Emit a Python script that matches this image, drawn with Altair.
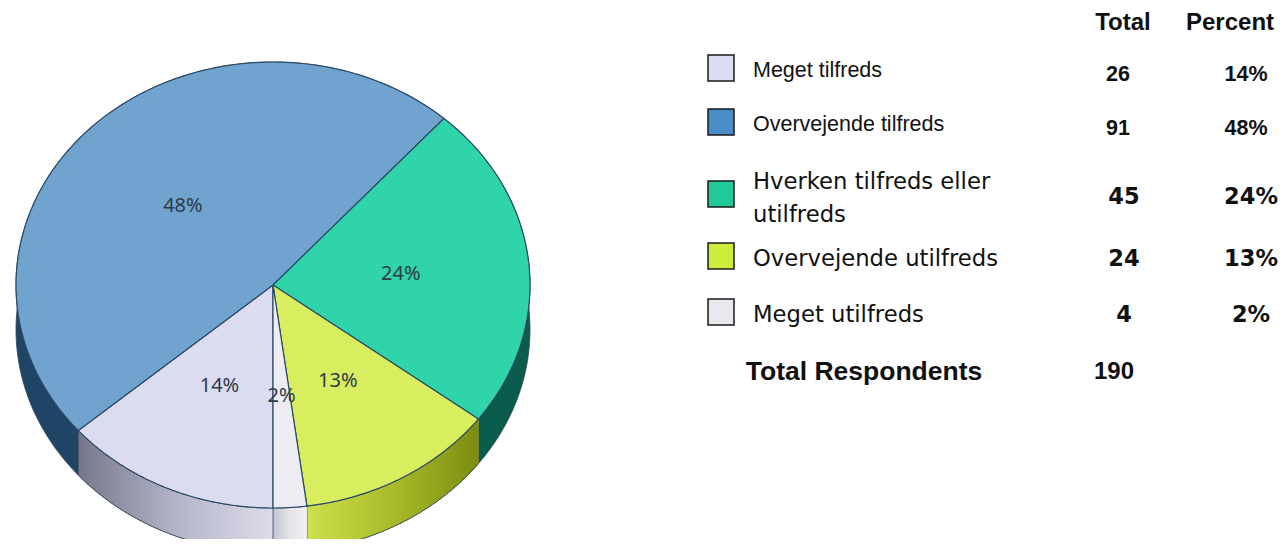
import altair as alt
import pandas as pd

# ---- data ----
categories = ["Meget tilfreds", "Overvejende tilfreds", "Hverken tilfreds eller utilfreds",
              "Overvejende utilfreds", "Meget utilfreds"]
totals = [26, 91, 45, 24, 4]
percent_labels = ["14%", "48%", "24%", "13%", "2%"]
header_labels = ["Total", "Percent"]
total_label = "Total Respondents"
total_respondents = 190

# ---- styles ----
top_colors = ["#dcdcf0", "#70a4cf", "#2fd4aa", "#d9ee5e", "#ececf2"]
side_colors = ["#a4a4ba", "#1f4466", "#0a5c4c", "#a9ba2c", "#d6d6df"]
legend_colors = ["#dcdcf2", "#4a8dc6", "#1fc99a", "#ccec3c", "#e8e8ee"]
outline = "#2b4a68"
side_gradients = {
    "Meget tilfreds": ["#77778a", "#b4b4c8", "#dcdcec"],
    "Overvejende utilfreds": ["#cde04a", "#a9bb2a", "#7c8c10"],
    "Meget utilfreds": ["#c4c4cc", "#e4e4ea", "#f0f0f4"],
}

K = 120          # points per slice edge (geometry resolution)
DEPTH = 0.20     # pie thickness in y units

df = pd.DataFrame({"category": categories, "total": totals, "pct": percent_labels,
                   "idx": list(range(1, len(categories) + 1))})

xs = alt.Scale(domain=[-1, 1], range=[8, 522])
ys = alt.Scale(domain=[-1, 1], range=[500, 54])
top_color = alt.Color("category:N", scale=alt.Scale(domain=categories, range=top_colors), legend=None)
side_color = alt.Color("category:N", scale=alt.Scale(domain=categories, range=side_colors), legend=None)

base = (alt.Chart(df)
        .transform_window(cum="sum(total)", sort=[alt.SortField("idx")])
        .transform_joinaggregate(grand="sum(total)")
        .transform_calculate(start="(datum.cum - datum.total) / datum.grand",
                             end="datum.cum / datum.grand"))

side_base = (base
             .transform_calculate(step=f"sequence(0, {2 * K + 2})")
             .transform_flatten(["step"])
             .transform_calculate(
                 lower=f"datum.step > {K}",
                 f=f"(datum.lower ? ({2 * K + 1} - datum.step) : datum.step) / {K}",
                 ang="2 * PI * (0.5 + datum.start + (datum.end - datum.start) * datum.f)",
                 px="sin(datum.ang)",
                 py=f"cos(datum.ang) - (datum.lower ? {DEPTH} : 0)"))

side_enc = dict(x=alt.X("px:Q", scale=xs, axis=None),
                y=alt.Y("py:Q", scale=ys, axis=None),
                order=alt.Order("step:Q"))

# side wall (drawn first, below the top face)
side = (side_base
        .mark_line(filled=True, stroke="#33445a", strokeWidth=0.8, clip=True)
        .encode(color=side_color, **side_enc))

side_shaded = []
for cat, stops in side_gradients.items():
    grad = alt.Gradient(gradient="linear", x1=0, x2=1, y1=0, y2=0,
                        stops=[alt.GradientStop(color=stops[0], offset=0),
                               alt.GradientStop(color=stops[1], offset=0.5),
                               alt.GradientStop(color=stops[2], offset=1)])
    side_shaded.append(side_base.transform_filter(alt.datum.category == cat)
                       .mark_line(filled=True, fill=grad, stroke="#33445a", strokeWidth=0.8, clip=True)
                       .encode(**side_enc))

# top face
top = (base
       .transform_calculate(step=f"sequence(-1, {K + 2})")
       .transform_flatten(["step"])
       .transform_calculate(
           f=f"clamp(datum.step, 0, {K}) / {K}",
           ang="2 * PI * (0.5 + datum.start + (datum.end - datum.start) * datum.f)",
           inner=f"datum.step < 0 || datum.step > {K}",
           px="datum.inner ? 0 : sin(datum.ang)",
           py="datum.inner ? 0 : cos(datum.ang)")
       .mark_line(filled=True, stroke=outline, strokeWidth=1.2, strokeJoin="round")
       .encode(x=alt.X("px:Q", scale=xs, axis=None),
               y=alt.Y("py:Q", scale=ys, axis=None),
               color=top_color,
               order=alt.Order("step:Q")))

# slice labels
slice_labels = (base
                .transform_calculate(
                    ang="2 * PI * (0.5 + (datum.start + datum.end) / 2)",
                    px="0.5 * sin(datum.ang)",
                    py="0.5 * cos(datum.ang)")
                .mark_text(font="Noto Sans", fontSize=20, color="#2e3b48")
                .encode(x=alt.X("px:Q", scale=xs, axis=None),
                        y=alt.Y("py:Q", scale=ys, axis=None),
                        text="pct:N"))

# ---- table on the right ----
row_scale = alt.Scale(domain=[0, 1, 2, 3, 4, 5, 6], range=[15, 63, 117, 189, 251, 307, 364])
Yrow = alt.Y("idx:Q", scale=row_scale, axis=None)

squares = (alt.Chart(df)
           .mark_square(size=676, opacity=1, stroke="#1a1a1a", strokeWidth=1.5, yOffset=-3)
           .encode(x=alt.value(713), y=Yrow,
                   fill=alt.Fill("category:N", scale=alt.Scale(domain=categories, range=legend_colors),
                                 legend=None)))

tbl = alt.Chart(df).transform_calculate(
    disp="replace(datum.category, ' eller ', ' eller\\n')")

labels_a = (tbl.transform_filter("datum.idx <= 2")
            .mark_text(align="left", font="Liberation Sans", fontSize=21.5, color="#111")
            .encode(x=alt.value(745), y=Yrow, text="disp:N"))
labels_c = (tbl.transform_filter("datum.idx == 3")
            .mark_text(align="left", font="DejaVu Sans", fontSize=22.7, color="#111",
                       lineBreak="\n", lineHeight=33, dy=-15)
            .encode(x=alt.value(745), y=Yrow, text="disp:N"))
labels_b = (tbl.transform_filter("datum.idx > 3")
            .mark_text(align="left", font="DejaVu Sans", fontSize=22.7, color="#111")
            .encode(x=alt.value(745), y=Yrow, text="disp:N"))

tot_a = (tbl.transform_filter("datum.idx <= 2")
         .mark_text(align="center", font="Liberation Sans", fontWeight="bold", fontSize=21.5, color="#111", dy=4)
         .encode(x=alt.value(1110), y=Yrow, text="total:Q"))
pct_a = (tbl.transform_filter("datum.idx <= 2")
         .mark_text(align="center", font="Liberation Sans", fontWeight="bold", fontSize=21.5, color="#111", dy=4)
         .encode(x=alt.value(1238), y=Yrow, text="pct:N"))
tot_b = (tbl.transform_filter("datum.idx > 2")
         .mark_text(align="center", font="DejaVu Sans", fontWeight="bold", fontSize=22.5, color="#111")
         .encode(x=alt.value(1116), y=Yrow, text="total:Q"))
pct_b = (tbl.transform_filter("datum.idx > 2")
         .mark_text(align="center", font="DejaVu Sans", fontWeight="bold", fontSize=22.5, color="#111")
         .encode(x=alt.value(1243), y=Yrow, text="pct:N"))

hdr_df = pd.DataFrame({"h": header_labels, "idx": [0, 0]})
hdr_total = (alt.Chart(hdr_df).transform_filter(f"datum.h == '{header_labels[0]}'")
             .mark_text(align="center", font="Liberation Sans", fontWeight="bold", fontSize=24, color="#111")
             .encode(x=alt.value(1115), y=Yrow, text="h:N"))
hdr_pct = (alt.Chart(hdr_df).transform_filter(f"datum.h == '{header_labels[1]}'")
           .mark_text(align="center", font="Liberation Sans", fontWeight="bold", fontSize=24, color="#111")
           .encode(x=alt.value(1222), y=Yrow, text="h:N"))

tr_df = pd.DataFrame({"label": [total_label], "n": [total_respondents], "idx": [6]})
tr_label = (alt.Chart(tr_df)
            .mark_text(align="center", font="Liberation Sans", fontWeight="bold", fontSize=26.5, color="#111")
            .encode(x=alt.value(856), y=Yrow, text="label:N"))
tr_value = (alt.Chart(tr_df)
            .mark_text(align="center", font="Liberation Sans", fontWeight="bold", fontSize=24, color="#111")
            .encode(x=alt.value(1106), y=Yrow, text="n:Q"))

chart = (alt.layer(side, *side_shaded, top, slice_labels, squares, labels_a, labels_c, labels_b,
                   tot_a, pct_a, tot_b, pct_b, hdr_total, hdr_pct, tr_label, tr_value)
         .resolve_scale(x="independent", y="independent", color="independent", fill="independent")
         .properties(width=1271, height=531, padding=0,
                     autosize=alt.AutoSizeParams(type="none"))
         .configure_view(stroke=None))

chart.save("out.html", embed_options={"renderer": "svg", "actions": False})
